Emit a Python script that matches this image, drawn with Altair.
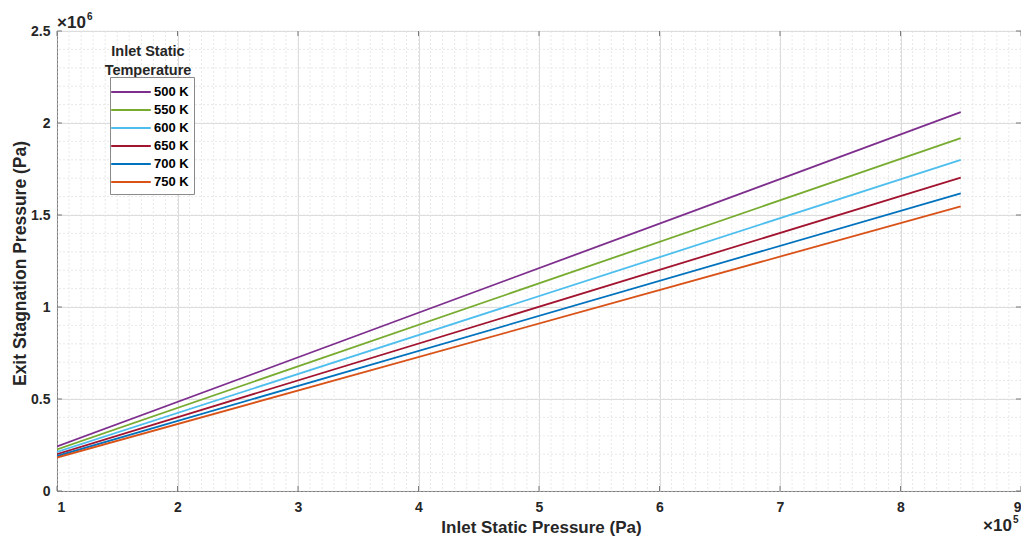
import altair as alt
import pandas as pd
import numpy as np

# ---- data (x in units of 1e5 Pa, y in units of 1e6 Pa) ----
temps = ["500 K", "550 K", "600 K", "650 K", "700 K", "750 K"]
colors = ["#7E2F8E", "#77AC30", "#4DBEEE", "#A2142F", "#0072BD", "#D95319"]
x_vals = [1.0, 8.5]
p_500 = [0.242, 2.059]
p_550 = [0.226, 1.918]
p_600 = [0.212, 1.800]
p_650 = [0.200, 1.703]
p_700 = [0.190, 1.618]
p_750 = [0.182, 1.547]
series = [p_500, p_550, p_600, p_650, p_700, p_750]

x_ticks = [1, 2, 3, 4, 5, 6, 7, 8, 9]
y_ticks = [0, 0.5, 1, 1.5, 2, 2.5]

rows = []
for t, s in zip(temps, series):
    for xv, yv in zip(x_vals, s):
        rows.append({"x": xv, "p": yv, "T": t})
df = pd.DataFrame(rows)

W, H = 964, 460
FONT = "Liberation Sans"
TXT = "#262626"
AX = "#7a7a7a"

xs = alt.Scale(domain=[1, 9], nice=False)
ys = alt.Scale(domain=[0, 2.5], nice=False)

# minor grid
xm = pd.DataFrame({"x": np.round(np.arange(1, 9.0001, 0.1), 2)})
ym = pd.DataFrame({"p": np.round(np.arange(0, 2.5001, 0.1), 2)})
minor_x = alt.Chart(xm).mark_rule(color="#e2e2e2", strokeDash=[2, 2], strokeWidth=0.8).encode(
    x=alt.X("x:Q", scale=xs))
minor_y = alt.Chart(ym).mark_rule(color="#e2e2e2", strokeDash=[2, 2], strokeWidth=0.8).encode(
    y=alt.Y("p:Q", scale=ys))

lines = alt.Chart(df).mark_line(strokeWidth=1.8, clip=True).encode(
    x=alt.X("x:Q", scale=xs, title="Inlet Static Pressure (Pa)",
            axis=alt.Axis(values=x_ticks, format="d", grid=True, gridColor="#dcdcdc",
                          ticks=False, domainColor=AX, labelFont=FONT, labelFontSize=14,
                          labelFontWeight="bold", labelColor=TXT, labelPadding=9,
                          titleFont=FONT, titleFontSize=17, titleFontWeight="bold",
                          titleColor=TXT, titleX=484, titleY=36, titleBaseline="middle",
                          titleAlign="center")),
    y=alt.Y("p:Q", scale=ys, title="Exit Stagnation Pressure (Pa)",
            axis=alt.Axis(values=y_ticks, format="~g", grid=True, gridColor="#dcdcdc",
                          ticks=False, domainColor=AX, labelFont=FONT, labelFontSize=14,
                          labelFontWeight="bold", labelColor=TXT, labelPadding=7,
                          titleFont=FONT, titleFontSize=17.5, titleFontWeight="bold",
                          titleColor=TXT, titleX=-37, titleY=232, titleAngle=270,
                          titleBaseline="middle", titleAlign="center")),
    color=alt.Color("T:N", scale=alt.Scale(domain=temps, range=colors),
                    legend=alt.Legend(orient="none", legendX=53, legendY=46, title=None,
                                      strokeColor="#8a8a8a", fillColor="white", padding=5,
                                      symbolType="M-2.2,0L2.2,0", symbolSize=324,
                                      symbolStrokeWidth=1.8, symbolOffset=6,
                                      labelOffset=13, rowPadding=1,
                                      labelFont=FONT, labelFontSize=13,
                                      labelFontWeight="bold", labelColor="#000000")),
)

# inward tick marks (MATLAB style box)
xt = pd.DataFrame({"x": x_ticks})
yt = pd.DataFrame({"p": y_ticks})
TL = 5
tb = alt.Chart(xt).mark_rule(color=AX).encode(x=alt.X("x:Q", scale=xs), y=alt.value(H), y2=alt.value(H - TL))
tt = alt.Chart(xt).mark_rule(color=AX).encode(x=alt.X("x:Q", scale=xs), y=alt.value(0), y2=alt.value(TL))
tl = alt.Chart(yt).mark_rule(color=AX).encode(y=alt.Y("p:Q", scale=ys), x=alt.value(0), x2=alt.value(TL))
tr = alt.Chart(yt).mark_rule(color=AX).encode(y=alt.Y("p:Q", scale=ys), x=alt.value(W), x2=alt.value(W - TL))

def txt(s, x, y, size, align="left", baseline="alphabetic", lb=None, lh=None):
    kw = dict(text=s, font=FONT, fontSize=size, fontWeight="bold", color=TXT,
              align=align, baseline=baseline)
    if lb:
        kw["lineBreak"] = lb
        kw["lineHeight"] = lh
    return alt.Chart(pd.DataFrame({"a": [0]})).mark_text(**kw).encode(
        x=alt.value(x), y=alt.value(y))

exp_y1 = txt("×10", 0, -3, 17)
exp_y2 = txt("6", 30, -11, 10)
exp_x1 = txt("×10", 926, 500, 17)
exp_x2 = txt("5", 956, 492, 10)
leg_title = txt("Inlet Static\nTemperature", 91, 25, 14.5, align="center", lb="\n", lh=18.5)

chart = alt.layer(minor_x, minor_y, lines, tb, tt, tl, tr,
                  exp_y1, exp_y2, exp_x1, exp_x2, leg_title).properties(
    width=W, height=H,
    autosize=alt.AutoSizeParams(type="none"),
    padding={"left": 49, "top": 23, "right": 0, "bottom": 45},
).configure_view(stroke=AX, strokeWidth=1).configure(background="white")

chart.save("out.html", embed_options={"renderer": "svg", "actions": False})
